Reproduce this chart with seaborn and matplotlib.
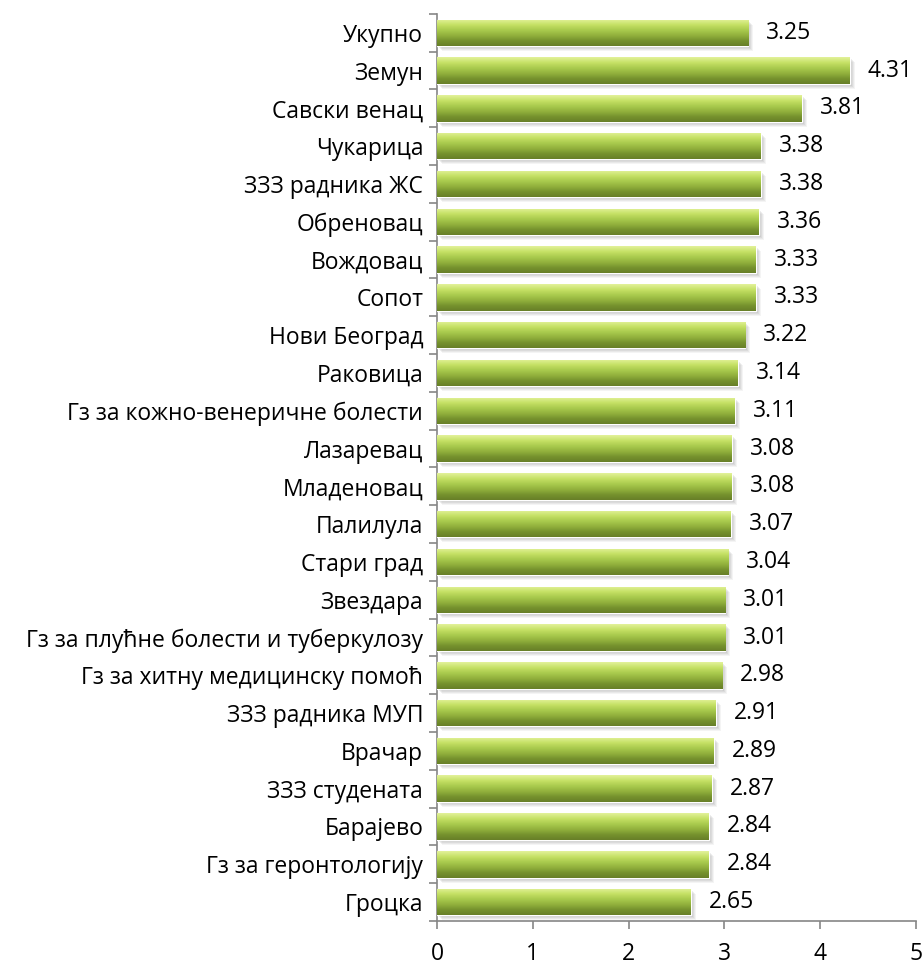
import numpy as np
import pandas as pd
import seaborn as sns
import matplotlib.pyplot as plt
from matplotlib.colors import LinearSegmentedColormap
from matplotlib.patches import Rectangle
from matplotlib.transforms import ScaledTranslation

units = ['Укупно', 'Земун', 'Савски венац', 'Чукарица', 'ЗЗЗ радника ЖС',
         'Обреновац', 'Вождовац', 'Сопот', 'Нови Београд', 'Раковица',
         'Гз за кожно-венеричне болести', 'Лазаревац', 'Младеновац', 'Палилула',
         'Стари град', 'Звездара', 'Гз за плућне болести и туберкулозу',
         'Гз за хитну медицинску помоћ', 'ЗЗЗ радника МУП', 'Врачар',
         'ЗЗЗ студената', 'Барајево', 'Гз за геронтологију', 'Гроцка']
scores = [3.25, 4.31, 3.81, 3.38, 3.38, 3.36, 3.33, 3.33, 3.22, 3.14,
          3.11, 3.08, 3.08, 3.07, 3.04, 3.01, 3.01, 2.98, 2.91, 2.89,
          2.87, 2.84, 2.84, 2.65]
xticks = [0, 1, 2, 3, 4, 5]

df = pd.DataFrame({'unit': units, 'score': scores})

sns.set_style('white')
plt.rcParams['font.family'] = ['Open Sans', 'DejaVu Sans']
fs = 16.5

fig = plt.figure(figsize=(9.24, 9.66), dpi=100)
ax = fig.add_axes([0.473, 0.0466, 0.518, 0.939])

sns.barplot(data=df, x='score', y='unit', orient='h', color='#9bbb45',
            width=0.7, ax=ax, zorder=3)

# gradient fill + soft shadow for each bar
green = LinearSegmentedColormap.from_list(
    'g', ['#e2f29a', '#c6e166', '#aacb4e', '#93b23e', '#76932e', '#687f28'])
grad = np.linspace(0, 1, 64).reshape(-1, 1)
for p in list(ax.patches):
    x0, y0, w, h = p.get_x(), p.get_y(), p.get_width(), p.get_height()
    im = ax.imshow(grad, extent=[x0, x0 + w, y0 + h, y0], cmap=green,
                   aspect='auto', zorder=4, interpolation='bilinear')
    im.set_clip_path(p)
    for k, a in [(5, 0.08), (4, 0.10), (3, 0.12), (2, 0.15)]:
        off = ScaledTranslation(k / 100, -k / 100, fig.dpi_scale_trans)
        ax.add_patch(Rectangle((x0, y0), w, h, facecolor='#7f7f7f', alpha=a,
                               edgecolor='none', zorder=2,
                               transform=ax.transData + off))
    ax.annotate(f'{w:.2f}', (x0 + w, y0 + h / 2), xytext=(13, 0),
                textcoords='offset points', va='center', ha='left',
                fontsize=fs, color='black')

ax.set_xlim(0, 5)
ax.set_ylim(len(units) - 0.5, -0.5)
ax.set_xticks(xticks)
ax.set_xticklabels([str(t) for t in xticks], fontsize=fs)
ax.set_yticks(range(len(units)))
ax.set_yticklabels(units, fontsize=fs)
ax.set_yticks(np.arange(-0.5, len(units), 1), minor=True)
ax.tick_params(axis='y', which='major', length=0, pad=10, labelcolor='black')
ax.tick_params(axis='y', which='minor', length=6, color='#868686', width=1.2,
               left=True)
ax.tick_params(axis='x', length=6, color='#868686', width=1.2, bottom=True,
               pad=9, labelcolor='black')
ax.set_xlabel('')
ax.set_ylabel('')
for s in ['top', 'right']:
    ax.spines[s].set_visible(False)
for s in ['left', 'bottom']:
    ax.spines[s].set_color('#868686')
    ax.spines[s].set_linewidth(1.2)

fig.savefig('out.png', dpi=100)
